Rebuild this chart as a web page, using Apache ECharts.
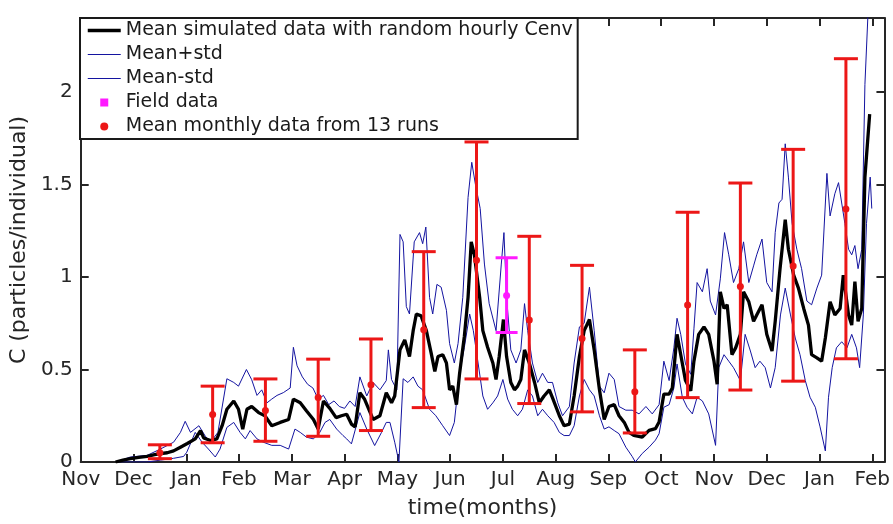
<!DOCTYPE html>
<html>
<head>
<meta charset="utf-8">
<script src="https://cdn.jsdelivr.net/npm/echarts@6/dist/echarts.min.js"></script>
<style>
  html, body { margin: 0; padding: 0; background: #fff; }
  #chart { width: 893px; height: 524px; }
</style>
</head>
<body>
<div id="chart"></div>
<script>
// Month tick labels: time axis runs in months from 1 November (0) to 1 February (15)
const monthLabels = ['Nov', 'Dec', 'Jan', 'Feb', 'Mar', 'Apr', 'May', 'Jun', 'Jul', 'Aug', 'Sep', 'Oct', 'Nov', 'Dec', 'Jan', 'Feb'];

// Mean simulated concentration [time (months), C]
const meanCurve = [
  [0.66,0],[0.80,0.01],[0.94,0.018],[1.10,0.025],[1.26,0.03],[1.40,0.04],[1.51,0.045],[1.64,0.05],[1.76,0.06],[1.89,0.08],
  [2.02,0.10],[2.17,0.125],[2.27,0.17],[2.33,0.13],[2.46,0.116],[2.58,0.125],[2.68,0.196],[2.77,0.285],[2.90,0.33],[2.99,0.285],
  [3.07,0.178],[3.15,0.285],[3.24,0.30],[3.37,0.267],[3.49,0.25],[3.62,0.196],[3.78,0.214],[3.94,0.23],[4.03,0.34],[4.16,0.32],
  [4.28,0.276],[4.41,0.23],[4.50,0.178],[4.60,0.33],[4.72,0.29],[4.84,0.24],[4.94,0.25],[5.04,0.258],[5.13,0.205],[5.20,0.19],
  [5.29,0.374],[5.38,0.339],[5.54,0.23],[5.67,0.25],[5.79,0.374],[5.89,0.32],[5.95,0.357],[6.05,0.606],[6.14,0.66],[6.23,0.57],
  [6.30,0.71],[6.36,0.80],[6.45,0.79],[6.55,0.71],[6.64,0.59],[6.71,0.49],[6.77,0.57],[6.86,0.58],[6.93,0.535],[6.99,0.39],
  [7.05,0.41],[7.12,0.31],[7.18,0.48],[7.27,0.68],[7.34,0.89],[7.40,1.19],[7.46,1.12],[7.56,0.89],[7.62,0.71],[7.71,0.62],
  [7.81,0.535],[7.87,0.446],[7.93,0.57],[8.01,0.77],[8.07,0.57],[8.15,0.43],[8.22,0.39],[8.28,0.41],[8.34,0.446],[8.41,0.606],
  [8.50,0.535],[8.60,0.43],[8.69,0.32],[8.78,0.357],[8.88,0.39],[8.95,0.34],[9.07,0.25],[9.16,0.196],[9.26,0.205],[9.35,0.357],
  [9.45,0.57],[9.54,0.71],[9.64,0.77],[9.73,0.606],[9.83,0.39],[9.92,0.23],[10.01,0.30],[10.11,0.31],[10.20,0.25],[10.30,0.214],
  [10.39,0.16],[10.48,0.144],[10.64,0.135],[10.77,0.171],[10.89,0.18],[10.96,0.216],[11.05,0.367],[11.15,0.367],[11.21,0.40],[11.30,0.69],
  [11.37,0.58],[11.46,0.44],[11.56,0.385],[11.62,0.545],[11.71,0.69],[11.81,0.73],[11.90,0.69],[12.00,0.545],[12.06,0.42],[12.12,0.92],
  [12.19,0.83],[12.25,0.85],[12.34,0.58],[12.41,0.617],[12.50,0.69],[12.56,0.92],[12.66,0.866],[12.75,0.76],[12.81,0.795],[12.91,0.85],
  [13.00,0.69],[13.10,0.60],[13.16,0.76],[13.25,1.04],[13.35,1.31],[13.41,1.15],[13.51,1.01],[13.60,0.94],[13.70,0.83],[13.79,0.74],
  [13.85,0.58],[13.95,0.563],[14.04,0.545],[14.11,0.67],[14.20,0.866],[14.29,0.795],[14.39,0.83],[14.45,1.01],[14.55,0.795],[14.61,0.74],
  [14.67,0.975],[14.73,0.76],[14.80,0.83],[14.86,1.54],[14.95,1.88]
];

// Mean + standard deviation
const meanPlusStd = [
  [0.68,0],[0.94,0.027],[1.26,0.036],[1.51,0.07],[1.76,0.107],[1.89,0.16],[1.98,0.22],[2.08,0.16],[2.24,0.196],[2.36,0.14],
  [2.46,0.107],[2.60,0.16],[2.77,0.45],[2.90,0.43],[2.99,0.41],[3.14,0.50],[3.24,0.445],[3.34,0.36],[3.43,0.39],[3.53,0.32],
  [3.62,0.34],[3.72,0.36],[3.84,0.375],[3.97,0.40],[4.03,0.62],[4.10,0.52],[4.20,0.46],[4.30,0.42],[4.40,0.40],[4.50,0.34],
  [4.60,0.36],[4.70,0.31],[4.80,0.33],[4.90,0.30],[5.00,0.29],[5.10,0.33],[5.20,0.30],[5.29,0.46],[5.42,0.357],[5.54,0.43],
  [5.67,0.39],[5.79,0.44],[5.83,0.606],[5.89,0.446],[5.99,0.39],[6.05,1.23],[6.11,1.19],[6.17,0.84],[6.23,0.80],[6.32,1.19],
  [6.42,1.24],[6.48,1.18],[6.54,1.27],[6.61,0.89],[6.67,0.80],[6.75,0.96],[6.83,0.945],[6.93,0.82],[6.99,0.64],[7.08,0.535],
  [7.15,0.64],[7.24,0.89],[7.34,1.43],[7.41,1.62],[7.48,1.50],[7.57,1.37],[7.65,1.07],[7.74,0.856],[7.87,0.71],[7.97,1.07],
  [8.02,1.24],[8.07,0.89],[8.15,0.606],[8.25,0.535],[8.34,0.606],[8.41,0.856],[8.47,0.71],[8.56,0.535],[8.66,0.43],[8.75,0.48],
  [8.85,0.43],[8.94,0.43],[9.04,0.32],[9.13,0.25],[9.26,0.30],[9.35,0.535],[9.45,0.73],[9.54,0.75],[9.64,0.945],[9.73,0.71],
  [9.83,0.41],[9.92,0.374],[10.01,0.48],[10.11,0.446],[10.20,0.30],[10.33,0.28],[10.45,0.28],[10.58,0.26],[10.71,0.30],[10.83,0.26],
  [10.96,0.31],[11.05,0.545],[11.15,0.44],[11.24,0.617],[11.30,0.777],[11.37,0.69],[11.46,0.53],[11.56,0.474],[11.62,0.72],[11.68,0.97],
  [11.78,0.92],[11.87,1.045],[11.93,0.87],[12.03,0.795],[12.12,0.99],[12.20,1.24],[12.28,1.12],[12.37,0.97],[12.47,1.045],[12.56,1.19],
  [12.66,0.97],[12.75,1.06],[12.81,1.12],[12.91,1.205],[13.00,0.97],[13.10,0.92],[13.16,1.24],[13.23,1.40],[13.29,1.42],[13.35,1.72],
  [13.41,1.54],[13.48,1.29],[13.57,1.15],[13.66,1.045],[13.76,0.87],[13.85,0.85],[13.95,0.94],[14.04,1.01],[14.14,1.56],[14.20,1.33],
  [14.29,1.45],[14.36,1.51],[14.42,1.40],[14.48,1.29],[14.55,1.15],[14.61,1.12],[14.67,1.17],[14.73,1.045],[14.80,1.15],[14.86,2.04],
  [14.93,2.5]
];

// Mean - standard deviation
const meanMinusStd = [
  [0.68,0],[1.26,0],[1.51,0.01],[1.76,0.02],[1.95,0.03],[2.01,0.053],[2.17,0.16],[2.30,0.107],[2.42,0.07],[2.55,0.027],
  [2.64,0.07],[2.77,0.187],[2.90,0.214],[3.02,0.16],[3.12,0.125],[3.21,0.17],[3.34,0.125],[3.46,0.107],[3.62,0.09],[3.78,0.09],
  [3.94,0.07],[4.06,0.178],[4.16,0.16],[4.28,0.134],[4.41,0.125],[4.53,0.16],[4.63,0.214],[4.72,0.23],[4.85,0.178],[4.97,0.143],
  [5.04,0.125],[5.13,0.098],[5.29,0.267],[5.42,0.178],[5.57,0.089],[5.70,0.16],[5.79,0.214],[5.86,0.214],[5.95,0.107],[6.03,0.0],
  [6.11,0.45],[6.20,0.43],[6.30,0.46],[6.39,0.41],[6.48,0.39],[6.61,0.285],[6.73,0.25],[6.86,0.196],[6.99,0.143],[7.08,0.214],
  [7.18,0.48],[7.27,0.62],[7.37,0.80],[7.44,0.71],[7.53,0.535],[7.62,0.357],[7.71,0.285],[7.81,0.32],[7.90,0.357],[8.00,0.446],
  [8.09,0.34],[8.18,0.285],[8.28,0.25],[8.37,0.285],[8.47,0.39],[8.56,0.357],[8.66,0.25],[8.75,0.285],[8.85,0.25],[8.97,0.214],
  [9.07,0.16],[9.16,0.143],[9.26,0.143],[9.35,0.196],[9.45,0.357],[9.54,0.446],[9.64,0.39],[9.73,0.357],[9.83,0.25],[9.92,0.178],
  [10.01,0.19],[10.11,0.17],[10.20,0.153],[10.33,0.08],[10.45,0.03],[10.51,0.0],[10.64,0.046],[10.77,0.08],[10.89,0.118],[10.96,0.153],
  [11.05,0.296],[11.15,0.31],[11.24,0.40],[11.30,0.53],[11.40,0.35],[11.49,0.296],[11.59,0.26],[11.68,0.35],[11.78,0.33],[11.90,0.26],
  [12.03,0.09],[12.09,0.51],[12.19,0.58],[12.28,0.545],[12.37,0.51],[12.50,0.44],[12.59,0.69],[12.69,0.60],[12.78,0.51],[12.87,0.545],
  [12.97,0.51],[13.07,0.40],[13.16,0.51],[13.26,0.795],[13.35,0.94],[13.45,0.795],[13.54,0.67],[13.63,0.58],[13.73,0.44],[13.82,0.35],
  [13.92,0.296],[14.01,0.19],[14.11,0.06],[14.17,0.35],[14.24,0.51],[14.32,0.617],[14.42,0.65],[14.52,0.617],[14.61,0.69],[14.70,0.617],
  [14.76,0.51],[14.83,0.795],[14.89,1.29],[14.96,1.54],[14.99,1.37]
];

// Monthly means from 13 runs with their error bars
const monthT    = [1.5, 2.5, 3.5, 4.5, 5.5, 6.5, 7.5, 8.5, 9.5, 10.5, 11.5, 12.5, 13.5, 14.5];
const monthMean = [0.05, 0.257, 0.278, 0.348, 0.417, 0.715, 1.09, 0.767, 0.667, 0.38, 0.848, 0.948, 1.06, 1.368];
const monthLow  = [0.018, 0.104, 0.112, 0.139, 0.17, 0.294, 0.449, 0.316, 0.271, 0.157, 0.348, 0.389, 0.437, 0.558];
const monthHigh = [0.093, 0.41, 0.449, 0.556, 0.665, 1.137, 1.73, 1.22, 1.063, 0.606, 1.35, 1.508, 1.69, 2.18];

// Field observation with its error bar
const fieldT    = [8.07];
const fieldMean = [0.90];
const fieldLow  = [0.70];
const fieldHigh = [1.104];

const AXIS_COLOR = '#262626';
const FONT = 'DejaVu Sans';
const X_MAX = 15.23;
const Y_MAX = 2.4;

function errorBarRenderer(color, halfCap) {
  return function (params, api) {
    const x = api.value(0);
    const pMid = api.coord([x, api.value(1)]);
    const pLo = api.coord([x, api.value(2)]);
    const pHi = api.coord([x, api.value(3)]);
    const stroke = { stroke: color, lineWidth: 3, fill: null };
    return {
      type: 'group',
      children: [
        { type: 'line', shape: { x1: pLo[0], y1: pLo[1], x2: pHi[0], y2: pHi[1] }, style: stroke },
        { type: 'line', shape: { x1: pLo[0] - halfCap, y1: pLo[1], x2: pLo[0] + halfCap, y2: pLo[1] }, style: stroke },
        { type: 'line', shape: { x1: pHi[0] - halfCap, y1: pHi[1], x2: pHi[0] + halfCap, y2: pHi[1] }, style: stroke },
        { type: 'circle', shape: { cx: pMid[0], cy: pMid[1], r: 3.5 }, style: { fill: color, stroke: null } }
      ]
    };
  };
}

const monthRows = monthT.map((t, i) => [t, monthMean[i], monthLow[i], monthHigh[i]]);
const fieldRows = fieldT.map((t, i) => [t, fieldMean[i], fieldLow[i], fieldHigh[i]]);

const axisLineStyle = { show: true, onZero: false, lineStyle: { color: AXIS_COLOR, width: 2 } };
const axisTickStyle = { show: true, inside: true, length: 8, lineStyle: { color: AXIS_COLOR, width: 2 } };

// line-only legend entries: hide the marker drawn in the middle of the sample line
const noMarker = { color: 'rgba(0,0,0,0)', borderColor: 'rgba(0,0,0,0)', borderWidth: 0 };

const chart = echarts.init(document.getElementById('chart'), null, { renderer: 'canvas' });
chart.setOption({
  animation: false,
  backgroundColor: '#ffffff',
  grid: { left: 80, right: 7, top: 18, bottom: 57, containLabel: false },
  xAxis: [
    {
      type: 'value', position: 'bottom', min: 0, max: X_MAX, interval: 1,
      axisLine: axisLineStyle, axisTick: axisTickStyle, splitLine: { show: false },
      axisLabel: {
        color: AXIS_COLOR, fontSize: 20, fontFamily: FONT, margin: 8,
        showMaxLabel: false,
        formatter: v => (Math.abs(v - Math.round(v)) < 1e-6 && monthLabels[Math.round(v)]) || ''
      },
      name: 'time(months)', nameLocation: 'middle', nameGap: 35,
      nameTextStyle: { color: AXIS_COLOR, fontSize: 22, fontFamily: FONT }
    },
    {
      type: 'value', position: 'top', min: 0, max: X_MAX, interval: 1,
      axisLine: axisLineStyle, axisTick: axisTickStyle, splitLine: { show: false },
      axisLabel: { show: false }
    }
  ],
  yAxis: [
    {
      type: 'value', position: 'left', min: 0, max: Y_MAX, interval: 0.5,
      axisLine: axisLineStyle, axisTick: axisTickStyle, splitLine: { show: false },
      axisLabel: {
        color: AXIS_COLOR, fontSize: 20, fontFamily: FONT, margin: 8,
        showMaxLabel: false,
        formatter: v => (Math.abs(v * 2 - Math.round(v * 2)) < 1e-6 ? String(v) : '')
      },
      name: 'C (particles/individual)', nameLocation: 'middle', nameGap: 44,
      nameTextStyle: { color: AXIS_COLOR, fontSize: 22, fontFamily: FONT }
    },
    {
      type: 'value', position: 'right', min: 0, max: Y_MAX, interval: 0.5,
      axisLine: axisLineStyle, axisTick: axisTickStyle, splitLine: { show: false },
      axisLabel: { show: false }
    }
  ],
  legend: {
    orient: 'vertical', left: 80, top: 18,
    padding: [3, 5, 3, 6], itemGap: 5, itemWidth: 33, itemHeight: 8,
    backgroundColor: '#ffffff', borderColor: '#1a1a1a', borderWidth: 2,
    selectedMode: false,
    textStyle: { color: '#1a1a1a', fontSize: 19, fontFamily: FONT },
    data: [
      { name: 'Mean simulated data with random hourly Cenv', itemStyle: noMarker, lineStyle: { width: 3.5, color: '#000000' } },
      { name: 'Mean+std', itemStyle: noMarker, lineStyle: { width: 1, color: '#1414a0' } },
      { name: 'Mean-std', itemStyle: noMarker, lineStyle: { width: 1, color: '#1414a0' } },
      { name: 'Field data', icon: 'path://M0,0h1v1h-1z' },
      { name: 'Mean monthly data from 13 runs', icon: 'circle' }
    ]
  },
  series: [
    {
      name: 'Mean+std', type: 'line', data: meanPlusStd, symbol: 'none',
      lineStyle: { color: '#1414a0', width: 1 }, itemStyle: { color: '#1414a0' }, z: 2
    },
    {
      name: 'Mean-std', type: 'line', data: meanMinusStd, symbol: 'none',
      lineStyle: { color: '#1414a0', width: 1 }, itemStyle: { color: '#1414a0' }, z: 2
    },
    {
      name: 'Mean simulated data with random hourly Cenv', type: 'line', data: meanCurve, symbol: 'none',
      lineStyle: { color: '#000000', width: 3.3 }, itemStyle: { color: '#000000' }, z: 3
    },
    {
      name: 'Field data', type: 'custom', data: fieldRows,
      encode: { x: 0, y: [1, 2, 3] },
      renderItem: errorBarRenderer('#ff1aff', 11),
      itemStyle: { color: '#ff1aff' }, z: 4
    },
    {
      name: 'Mean monthly data from 13 runs', type: 'custom', data: monthRows,
      encode: { x: 0, y: [1, 2, 3] },
      renderItem: errorBarRenderer('#ec1717', 12),
      itemStyle: { color: '#ec1717' }, z: 4
    }
  ]
});
</script>
</body>
</html>
